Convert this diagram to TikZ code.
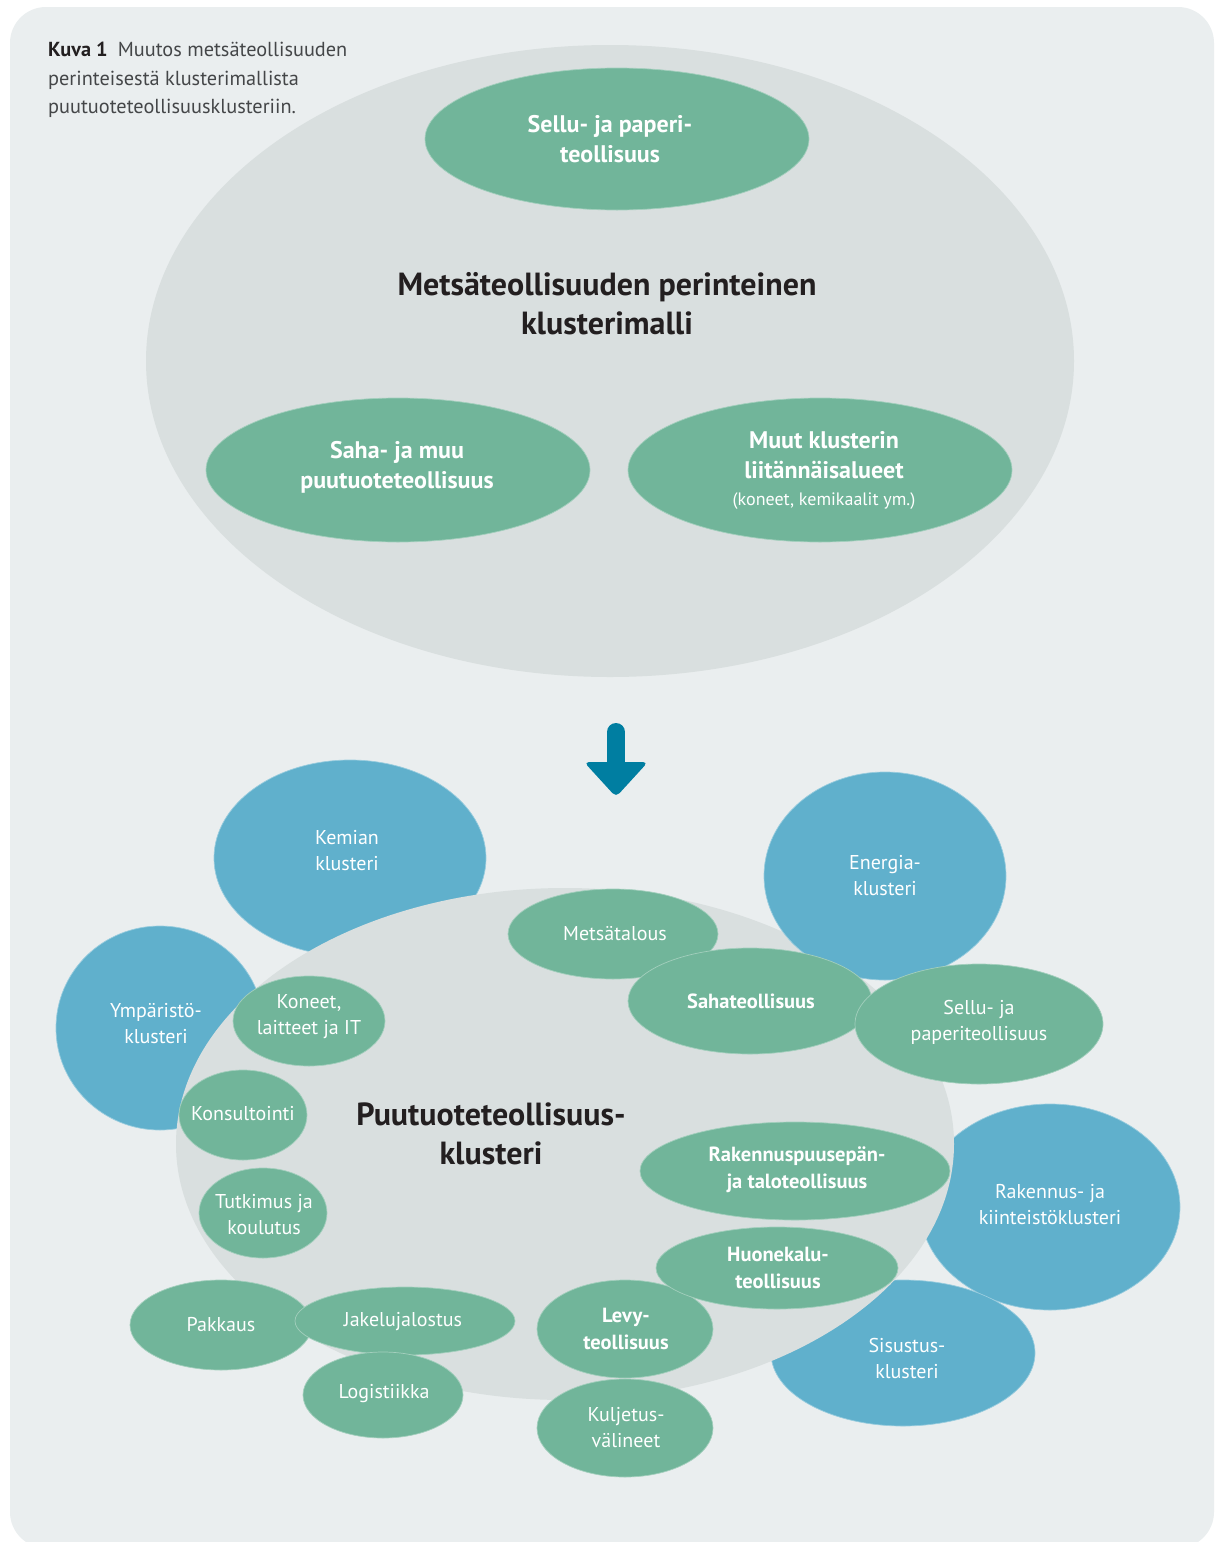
\documentclass[tikz,border=0pt]{standalone}
\usepackage{fontspec}
\setmainfont{PT Sans}
\definecolor{panel}{HTML}{EAEEEF}
\definecolor{greyell}{HTML}{D9DFDF}
\definecolor{gr}{HTML}{71B59A}
\definecolor{bl}{HTML}{60B0CC}
\definecolor{arr}{HTML}{007EA1}
\definecolor{dark}{HTML}{231F20}
\definecolor{cap}{HTML}{444648}
\begin{document}
\begin{tikzpicture}[x=1pt,y=-1pt,
  gfill/.style={fill=gr, draw=white!35!gr, line width=0.7pt},
  bfill/.style={fill=bl, draw=white!35!bl, line width=0.7pt},
  lbl/.style={align=center, text=white, inner sep=0pt, font=\fontsize{20}{26}\selectfont},
  lblb/.style={lbl, font=\bfseries\fontsize{20.5}{27}\selectfont},
  toplbl/.style={lbl, font=\bfseries\fontsize{24}{30}\selectfont},
  titl/.style={align=center, text=dark, inner sep=0pt, font=\bfseries\fontsize{32}{39}\selectfont}]
\useasboundingbox (0,0) rectangle (1215,1542);
\fill[white] (0,0) rectangle (1215,1542);
\fill[panel, rounded corners=36pt] (10,7) rectangle (1214,1548);

% caption
\node[anchor=north west, align=left, text=cap, inner sep=0pt,
  font=\fontsize{20.3}{28.5}\selectfont] (caption) at (48,42)
  {\textbf{\color{dark}Kuva 1}\hspace{0.5em}Muutos metsäteollisuuden\\perinteisestä klusterimallista\\puutuoteteollisuusklusteriin.};

% ---------- top model ----------
\fill[greyell] (610,361) ellipse [x radius=464pt, y radius=316pt];
\path[gfill] (617,139) ellipse [x radius=192pt, y radius=71pt];
\path[gfill] (398,470) ellipse [x radius=192pt, y radius=72pt];
\path[gfill] (820,470) ellipse [x radius=192pt, y radius=72pt];
\node[toplbl] (sellutop) at (610,139) {Sellu- ja paperi-\\teollisuus};
\node[titl] (toptitle) at (607,304) {Metsäteollisuuden perinteinen\\klusterimalli};
\node[toplbl] (sahatop) at (397,467) {Saha- ja muu\\puutuoteteollisuus};
\node[toplbl, anchor=north] (muut) at (824,431) {Muut klusterin\\liitännäisalueet\\[-3pt]{\mdseries\fontsize{18}{22}\selectfont (koneet, kemikaalit ym.)}};

% ---------- arrow ----------
\draw[arr, line width=18pt, line cap=round] (616,732) -- (616,770);
\fill[arr, rounded corners=5pt] (584,762) -- (648,762) -- (616,797) -- cycle;

% ---------- bottom cluster ----------
\path[bfill] (350,858) ellipse [x radius=136pt, y radius=98pt];
\path[bfill] (160,1028) ellipse [x radius=104pt, y radius=102pt];
\path[bfill] (1050,1207) ellipse [x radius=130pt, y radius=103pt];
\path[bfill] (903,1353) ellipse [x radius=132pt, y radius=73pt];
\fill[greyell] (565,1144) ellipse [x radius=389pt, y radius=256pt];
\path[bfill] (885,876) ellipse [x radius=121pt, y radius=104pt];

\node[lbl] (kemian) at (347,851) {Kemian\\klusteri};
\node[lbl] (ymp) at (156,1024) {Ympäristö-\\klusteri};
\node[lbl] (energia) at (885,876) {Energia-\\klusteri};
\node[lbl] (rakkl) at (1050,1205) {Rakennus- ja\\kiinteistöklusteri};
\node[lbl] (sisustus) at (907,1358) {Sisustus-\\klusteri};

\path[gfill] (613,934) ellipse [x radius=105pt, y radius=45pt];
\path[gfill] (750,1001) ellipse [x radius=122pt, y radius=53pt];
\path[gfill] (979,1024) ellipse [x radius=124pt, y radius=60pt];
\path[gfill] (309,1021) ellipse [x radius=76pt, y radius=45pt];
\path[gfill] (243,1115) ellipse [x radius=64pt, y radius=45pt];
\path[gfill] (263,1213) ellipse [x radius=64pt, y radius=45pt];
\path[gfill] (795,1171) ellipse [x radius=155pt, y radius=49pt];
\path[gfill] (625,1329) ellipse [x radius=88pt, y radius=49pt];
\path[gfill] (777,1268) ellipse [x radius=121pt, y radius=41pt];
\path[gfill] (625,1428) ellipse [x radius=88pt, y radius=49pt];
\path[gfill] (221,1325) ellipse [x radius=91pt, y radius=45pt];
\path[gfill] (405,1321) ellipse [x radius=110pt, y radius=34pt];
\path[gfill] (383,1395) ellipse [x radius=80pt, y radius=43pt];

\node[titl] (puutitle) at (491,1134) {Puutuoteteollisuus-\\klusteri};

\node[lbl] (metsa) at (615,934) {Metsätalous};
\node[lblb] (saha) at (751,1001) {Sahateollisuus};
\node[lbl] (sellu) at (979,1022) {Sellu- ja\\paperiteollisuus};
\node[lbl] (koneet) at (309,1017) {Koneet,\\laitteet ja IT};
\node[lbl] (konsult) at (243,1114) {Konsultointi};
\node[lbl] (tutkimus) at (264,1215) {Tutkimus ja\\koulutus};
\node[lblb] (rakpuu) at (797,1170) {Rakennuspuusepän-\\ja taloteollisuus};
\node[lblb] (huone) at (778,1268) {Huonekalu-\\teollisuus};
\node[lblb] (levy) at (626,1329) {Levy-\\teollisuus};
\node[lbl] (kulj) at (626,1428) {Kuljetus-\\välineet};
\node[lbl] (pakkaus) at (221,1325) {Pakkaus};
\node[lbl] (jakelu) at (403,1322) {Jakelujalostus};
\node[lbl] (logis) at (384,1394) {Logistiikka};
\end{tikzpicture}
\end{document}
